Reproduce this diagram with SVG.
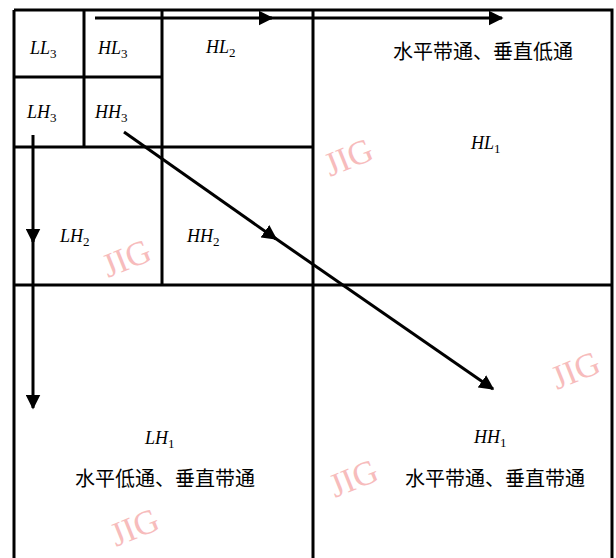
<svg xmlns="http://www.w3.org/2000/svg" width="616" height="558" viewBox="0 0 616 558">
<style>
.ln{stroke:#000;stroke-width:3;fill:none}
.ar{stroke:#000;stroke-width:3;fill:none}
.lb{font-family:"Liberation Serif",serif;font-style:italic;font-size:18px;fill:#000}
.sb{font-size:13px;font-style:normal}
.cn{font-family:"Noto Sans CJK SC",sans-serif;font-size:20px;font-weight:400;fill:#000;text-anchor:middle}
.wm{font-family:"Liberation Serif",serif;font-size:34px;fill:#f4a0a0;opacity:0.7}
</style>
<defs>
<marker id="ah" viewBox="0 0 10 10" refX="9" refY="5" markerWidth="5" markerHeight="5" orient="auto" markerUnits="strokeWidth">
<path d="M0,0 L10,5 L0,10 Z" fill="#000"/>
</marker>
</defs>
<rect width="616" height="558" fill="#fff"/>
<g id="grid">
<path class="ln" d="M14,10 H612 V558 M14,10 V558"/>
<path class="ln" d="M84,10 V147 M162,10 V285 M313,10 V558"/>
<path class="ln" d="M14,77 H162 M14,147 H313 M14,285 H612"/>
</g>
<g id="connectors">
<path class="ar" d="M95,18 H272" marker-end="url(#ah)"/>
<path class="ar" d="M268,18 H502" marker-end="url(#ah)"/>
<path class="ar" d="M33,135 V242" marker-end="url(#ah)"/>
<path class="ar" d="M33,238 V408" marker-end="url(#ah)"/>
<path class="ar" d="M124,132 L276,239" marker-end="url(#ah)"/>
<path class="ar" d="M272,236 L493,389" marker-end="url(#ah)"/>
</g>
<g id="LL3"><text class="lb" x="30" y="54">LL<tspan class="sb" dy="4">3</tspan></text></g>
<g id="HL3"><text class="lb" x="98" y="54">HL<tspan class="sb" dy="4">3</tspan></text></g>
<g id="HL2"><text class="lb" x="206" y="53">HL<tspan class="sb" dy="4">2</tspan></text></g>
<g id="LH3"><text class="lb" x="27" y="118">LH<tspan class="sb" dy="4">3</tspan></text></g>
<g id="HH3"><text class="lb" x="95" y="118">HH<tspan class="sb" dy="4">3</tspan></text></g>
<g id="HL1">
<text class="cn" x="483" y="59">水平带通、垂直低通</text>
<text class="lb" x="471" y="149">HL<tspan class="sb" dy="4">1</tspan></text>
</g>
<g id="LH2"><text class="lb" x="60" y="242">LH<tspan class="sb" dy="4">2</tspan></text></g>
<g id="HH2"><text class="lb" x="187" y="242">HH<tspan class="sb" dy="4">2</tspan></text></g>
<g id="LH1">
<text class="lb" x="145" y="444">LH<tspan class="sb" dy="4">1</tspan></text>
<text class="cn" x="165" y="486">水平低通、垂直带通</text>
</g>
<g id="HH1">
<text class="lb" x="474" y="443">HH<tspan class="sb" dy="4">1</tspan></text>
<text class="cn" x="495" y="486">水平带通、垂直带通</text>
</g>
<g id="watermarks">
<text class="wm" transform="translate(108,278) rotate(-22)">JIG</text>
<text class="wm" transform="translate(330,177) rotate(-22)">JIG</text>
<text class="wm" transform="translate(557,390) rotate(-22)">JIG</text>
<text class="wm" transform="translate(335,498) rotate(-22)">JIG</text>
<text class="wm" transform="translate(116,547) rotate(-22)">JIG</text>
</g>
</svg>
